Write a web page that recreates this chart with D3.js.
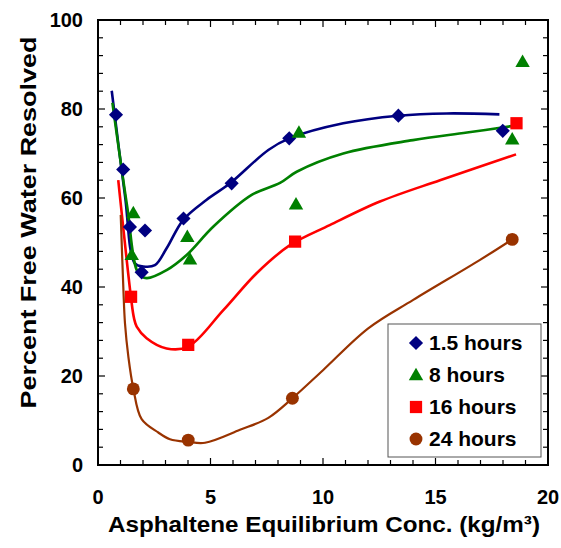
<!DOCTYPE html>
<html><head><meta charset="utf-8">
<script src="https://cdn.jsdelivr.net/npm/d3@7"></script>
<style>
html,body{margin:0;padding:0;background:#fff;}
text{font-family:Arial,"Liberation Sans",Helvetica,sans-serif;font-weight:bold;fill:#000;}
</style></head>
<body><svg id="chart" width="561" height="548"></svg>
<script>
// ---- data ----
const seriesNames = ["1.5 hours", "8 hours", "16 hours", "24 hours"];
const seriesColors = ["#000080", "#008000", "#FF0000", "#993300"];
const seriesShapes = ["diamond", "triangle", "square", "circle"];

const pts15 = [[0.8,78.7],[1.12,66.4],[1.42,53.5],[2.09,52.7],[1.94,43.3],[3.8,55.4],[5.94,63.3],[8.5,73.4],[13.35,78.5],[17.99,75.1]];
const pts8  = [[1.57,56.6],[1.5,47.2],[3.97,51.3],[4.09,46.2],[8.93,74.7],[8.8,58.6],[18.41,73.2],[18.87,90.6]];
const pts16 = [[1.47,37.8],[4.01,27.0],[8.76,50.2],[18.6,76.8]];
const pts24 = [[1.57,17.1],[4.01,5.6],[8.64,15.0],[18.41,50.7]];

const fit15 = [[0.61,84.1],[1.2,60.5],[1.64,45.3],[2.01,44.6],[2.53,44.9],[3.05,48.7],[3.79,55.1],[4.83,59.6],[5.87,63.3],[7.57,70.8],[8.5,73.4],[10.9,76.8],[13.35,78.5],[15.5,79.0],[17.84,78.8]];
const fit8  = [[0.64,81.4],[1.3,58],[1.79,43.1],[2.16,42.0],[3.05,43.8],[3.94,47.2],[5.13,53.6],[6.83,60.7],[8.09,63.4],[8.83,65.9],[10.9,70.0],[14.0,73.0],[16.4,74.7],[18.46,76.2]];
const fit16 = [[0.9,64],[1.47,37.5],[1.6,33],[1.72,31.1],[2.16,28.5],[3.05,26.2],[4.01,26.6],[5.57,34.8],[7.05,43.1],[8.53,49.4],[10.3,53.9],[12.53,59.2],[15.2,64.0],[18.58,69.8]];
const fit24 = [[1.01,56.2],[1.13,39.3],[1.2,31.8],[1.35,24.3],[1.57,17.2],[1.94,10.3],[2.68,7.3],[3.2,5.8],[4.01,5.2],[4.76,5.0],[6.31,7.9],[7.57,10.6],[8.64,15.0],[10.0,21.3],[12.01,30.7],[14.01,37.1],[16.98,46.1],[18.41,50.7]];

const xTickLabels = [0, 5, 10, 15, 20];
const yTickLabels = [0, 20, 40, 60, 80, 100];
const xTitle = "Asphaltene Equilibrium Conc. (kg/m³)";
const yTitle = "Percent Free Water Resolved";

const pointSets = [pts15, pts8, pts16, pts24];
const fitSets = [fit15, fit8, fit16, fit24];

// ---- layout ----
const svg = d3.select("#chart");
const L = 98, R = 548, T = 20, B = 465;
const x = d3.scaleLinear().domain([0, 20]).range([L, R]);
const y = d3.scaleLinear().domain([0, 100]).range([B, T]);

function symbolPath(shape) {
  const map = {
    diamond: d3.symbol().type(d3.symbolSquare).size(100)(),
    triangle: d3.symbol().type(d3.symbolTriangle).size(90)(),
    square: d3.symbol().type(d3.symbolSquare).size(150)(),
    circle: d3.symbol().type(d3.symbolCircle).size(130)()
  };
  return map[shape];
}
function symbolTransform(shape, cx, cy) {
  if (shape === "diamond") return `translate(${cx},${cy}) rotate(45)`;
  if (shape === "triangle") return `translate(${cx},${cy + 1})`;
  return `translate(${cx},${cy})`;
}

// ---- fit lines ----
const line = d3.line().x(d => x(d[0])).y(d => y(d[1])).curve(d3.curveCatmullRom.alpha(0.5));
fitSets.forEach((f, i) => {
  svg.append("path").datum(f)
    .attr("d", line).attr("fill", "none")
    .attr("stroke", seriesColors[i])
    .attr("stroke-width", i === 3 ? 2.2 : 2.6)
    .attr("stroke-linejoin", "round");
});

// ---- markers ----
pointSets.forEach((p, i) => {
  svg.append("g").selectAll("path").data(p).join("path")
    .attr("d", symbolPath(seriesShapes[i]))
    .attr("transform", d => symbolTransform(seriesShapes[i], x(d[0]), y(d[1])))
    .attr("fill", seriesColors[i]);
});

// ---- frame and ticks ----
const axisG = svg.append("g");
axisG.append("rect").attr("x", L).attr("y", T).attr("width", R - L).attr("height", B - T)
  .attr("fill", "none").attr("stroke", "#000").attr("stroke-width", 2);

const xMinor = d3.range(0, 21, 1);
const yMinor = d3.range(0, 101, 4);
xMinor.forEach(v => {
  const len = v % 5 === 0 ? 7 : 5;
  axisG.append("line").attr("x1", x(v)).attr("x2", x(v)).attr("y1", B).attr("y2", B - len).attr("stroke", "#000").attr("stroke-width", 1.2);
  axisG.append("line").attr("x1", x(v)).attr("x2", x(v)).attr("y1", T).attr("y2", T + len).attr("stroke", "#000").attr("stroke-width", 1.2);
});
yMinor.forEach(v => {
  const len = v % 20 === 0 ? 7 : 5;
  axisG.append("line").attr("x1", L).attr("x2", L + len).attr("y1", y(v)).attr("y2", y(v)).attr("stroke", "#000").attr("stroke-width", 1.2);
  axisG.append("line").attr("x1", R).attr("x2", R - len).attr("y1", y(v)).attr("y2", y(v)).attr("stroke", "#000").attr("stroke-width", 1.2);
});

// tick labels
svg.append("g").selectAll("text").data(xTickLabels).join("text")
  .attr("x", d => x(d)).attr("y", 504).attr("text-anchor", "middle")
  .attr("font-size", 20).text(d => d);
svg.append("g").selectAll("text").data(yTickLabels).join("text")
  .attr("x", 83).attr("y", d => y(d) + 7).attr("text-anchor", "end")
  .attr("font-size", 20).text(d => d);

// titles
svg.append("text").attr("x", 108).attr("y", 532)
  .attr("font-size", 22).attr("textLength", 432).attr("lengthAdjust", "spacingAndGlyphs").text(xTitle);
svg.append("text").attr("transform", `translate(36,${(T + B) / 2 - 20}) rotate(-90)`)
  .attr("text-anchor", "middle").attr("font-size", 22)
  .attr("textLength", 372).attr("lengthAdjust", "spacingAndGlyphs").text(yTitle);

// ---- legend ----
const lg = svg.append("g");
lg.append("rect").attr("x", 388).attr("y", 324).attr("width", 153).attr("height", 133)
  .attr("fill", "#fff").attr("stroke", "#555").attr("stroke-width", 1);
const rowY = [343, 375, 407, 439];
seriesNames.forEach((n, i) => {
  lg.append("path").attr("d", symbolPath(seriesShapes[i]))
    .attr("transform", symbolTransform(seriesShapes[i], 416, rowY[i]))
    .attr("fill", seriesColors[i]);
  lg.append("text").attr("x", 429).attr("y", rowY[i] + 7).attr("font-size", 21).text(n);
});
</script></body></html>
